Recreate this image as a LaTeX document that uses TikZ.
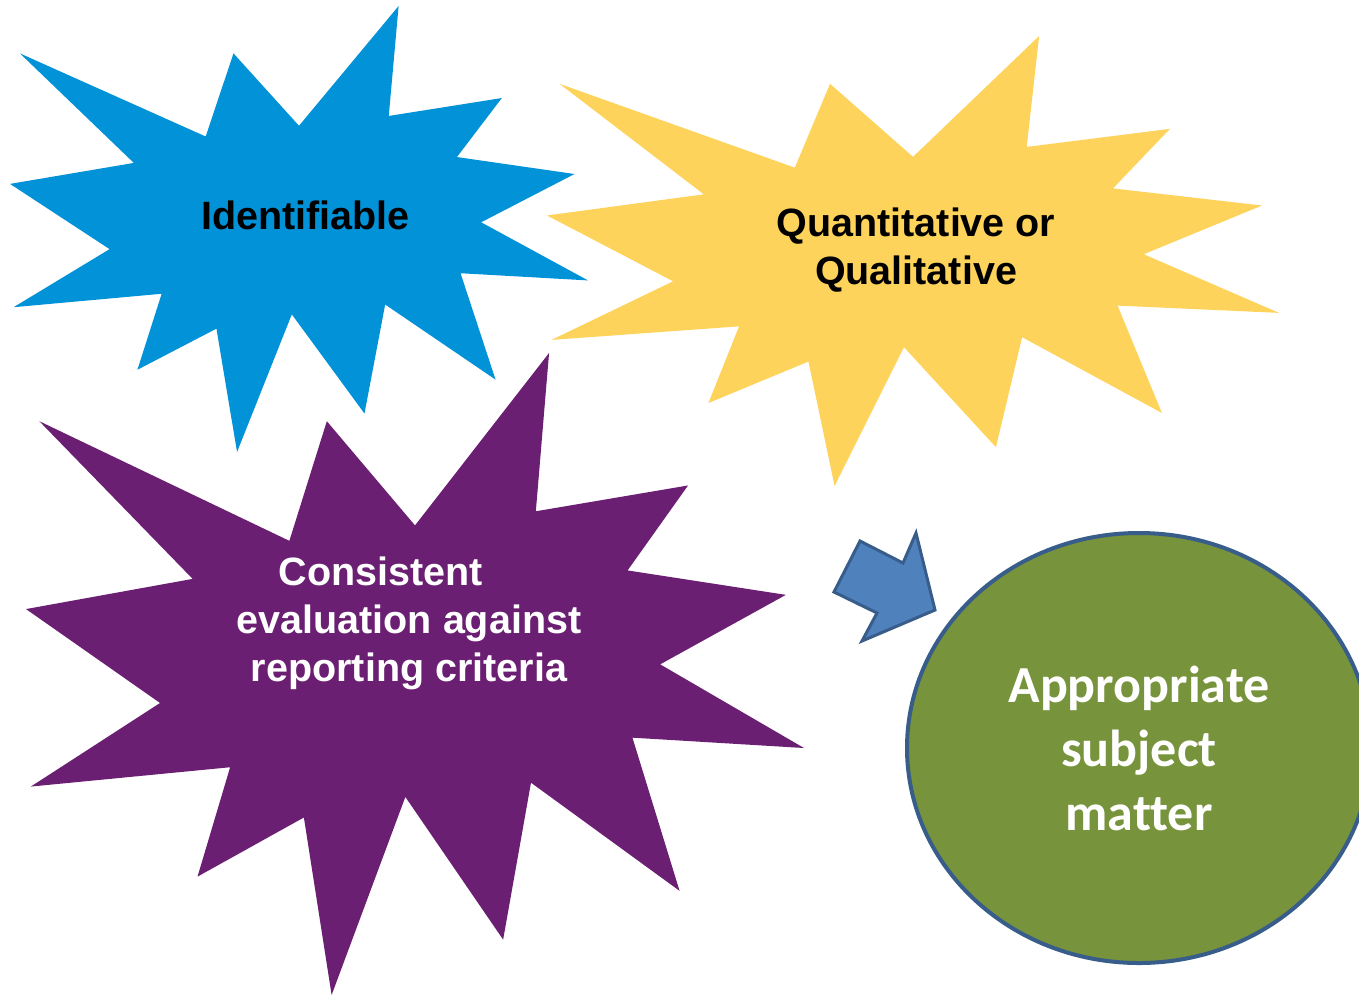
\documentclass[tikz,border=0pt]{standalone}
\usepackage{fontspec}
\usepackage{tikz}
\usetikzlibrary{shapes.geometric}
\newfontfamily\arialfont{Liberation Sans}
\newfontfamily\calibrifont[Ligatures=NoCommon]{Carlito}
\definecolor{burstblue}{HTML}{0292D8}
\definecolor{burstyellow}{HTML}{FED35B}
\definecolor{burstpurple}{HTML}{6B1F73}
\definecolor{arrowfill}{HTML}{4F81BD}
\definecolor{arrowline}{HTML}{385D8A}
\definecolor{mattergreen}{HTML}{77933C}
\tikzset{
  pics/burst/.style n args={3}{
    code = {
        \fill [#3, xscale=#1/216, yscale=#2/216]
            (108,58) -- (145.22,0) -- (141.55,53.25) -- (183.80,44.57) -- (167.02,73.15)
            -- (210.97,81.37) -- (176.07,104.75) -- (216,132.90) -- (168.37,129.42)
            -- (181.45,180.95) -- (140.20,144.57) -- (132.47,197.37) -- (105.32,149.35)
            -- (84.85,216) -- (77.15,156.27) -- (47.62,176.17) -- (56.67,139.37)
            -- (1.35,145.87) -- (37.22,117.75) -- (0,86.15) -- (46.27,76.00)
            -- (3.70,22.95) -- (73.12,63.20) -- (83.52,22.95) -- cycle;
    }
  },
  burst text/.style={font=\arialfont\bfseries\fontsize{39.5}{48}\selectfont, align=center, inner sep=0pt},
  blockarrow/.style={fill=arrowfill, draw=arrowline, line width=3pt, line join=miter},
  matter/.style={ellipse, draw=arrowline, line width=4pt, fill=mattergreen, text=white, inner sep=0pt,
    minimum width=464, minimum height=430, align=center,
    font=\calibrifont\bfseries\fontsize{52}{64}\selectfont}
}
\begin{document}
\begin{tikzpicture}[x=1pt, y=-1pt]
            \useasboundingbox (0,0) rectangle (1359,996);

            \path pic at (10,6) {burst={578}{446}{burstblue}};
            \path pic at (547,36) {burst={732}{450}{burstyellow}};
            \path pic at (26,353) {burst={778}{642}{burstpurple}};

            \node (ident) [burst text] at (305.5,215) {Identifiable};
            \node (quant) [burst text] at (916,250) {Quantitative or\\Qualitative};
            \node (eval) [burst text, text=white] at (409,623) {Consistent\hspace*{56pt}\\evaluation against\\reporting criteria};

            \draw [blockarrow] (860,541) -- (903,563) -- (916,533) -- (935,610) -- (862,641) -- (877,613) -- (834,592) -- cycle;

            \node (subject) [matter] at (1139,748) {Appropriate\\subject\\matter};
        \end{tikzpicture}
\end{document}
